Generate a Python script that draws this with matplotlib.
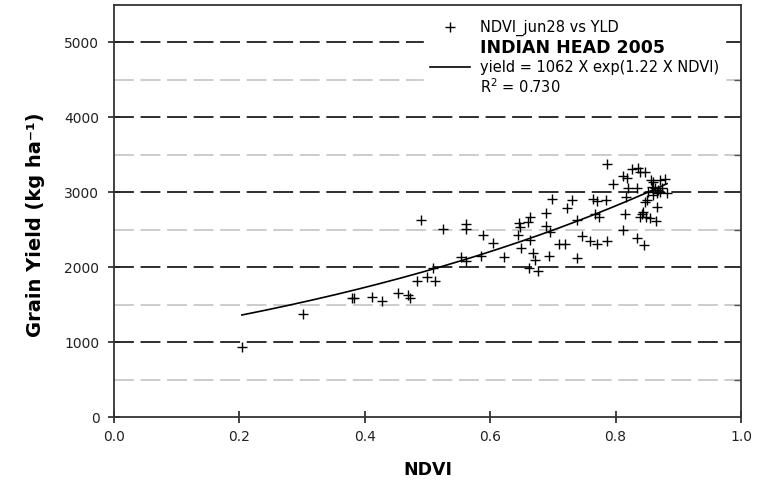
import numpy as np
import matplotlib
matplotlib.use("Agg")
import matplotlib.pyplot as plt
from matplotlib.lines import Line2D

plt.rcParams['font.family'] = ['DejaVu Sans']

# NDVI (jun 28) vs grain yield, Indian Head 2005
ndvi = [0.204, 0.302, 0.380, 0.383, 0.412, 0.428, 0.453, 0.469, 0.472, 0.483,
        0.490, 0.500, 0.509, 0.512, 0.525, 0.561, 0.561, 0.553, 0.561, 0.585,
        0.589, 0.605, 0.622, 0.644, 0.646, 0.648, 0.660, 0.663, 0.649, 0.663,
        0.668, 0.671, 0.662, 0.676, 0.694, 0.689, 0.689, 0.695, 0.699, 0.722,
        0.730, 0.710, 0.719, 0.738, 0.738, 0.746, 0.759, 0.770, 0.786, 0.764,
        0.770, 0.785, 0.767, 0.774, 0.786, 0.796, 0.812, 0.815, 0.812, 0.818,
        0.820, 0.817, 0.826, 0.836, 0.839, 0.847, 0.834, 0.834, 0.845, 0.844,
        0.842, 0.848, 0.839, 0.855, 0.864, 0.866, 0.850, 0.847, 0.856, 0.860,
        0.871, 0.879, 0.858, 0.863, 0.868, 0.871, 0.866, 0.874, 0.882, 0.852,
        0.860]
yld = [940, 1370, 1590, 1590, 1600, 1550, 1660, 1630, 1590, 1810,
       2630, 1870, 1990, 1820, 2510, 2580, 2510, 2140, 2080, 2150,
       2430, 2320, 2140, 2430, 2590, 2540, 2600, 2670, 2260, 2360,
       2190, 2100, 1990, 1950, 2150, 2720, 2550, 2470, 2910, 2790,
       2900, 2310, 2310, 2630, 2120, 2410, 2350, 2310, 2350, 2910,
       2890, 2900, 2710, 2670, 3380, 3110, 2500, 2710, 3220, 3190,
       3060, 2940, 3310, 3330, 3270, 3270, 3060, 2390, 2290, 2740,
       2710, 2670, 2670, 2660, 2620, 2800, 2900, 2870, 3170, 3140,
       3170, 3180, 3070, 3060, 3030, 3000, 2990, 3060, 2990, 3010,
       2970]

# fitted model shown in the legend
a_coef = 1062
b_coef = 1.22

fig = plt.figure(figsize=(7.61, 4.83), dpi=100)
ax = fig.add_axes([0.1498, 0.1366, 0.8239, 0.8530])

# grid lines
for v in range(500, 5500, 1000):
    ax.axhline(v, color="#c8c8c8", lw=1.3, ls=(0, (11, 3.7)), zorder=1)
for v in range(1000, 5500, 1000):
    ax.axhline(v, color="#1e1e1e", lw=1.3, ls=(0, (11, 3.7)), zorder=1)

ax.plot(ndvi, yld, ls="none", marker="+", ms=7, mew=1.0, color="black", zorder=3)
xf = np.linspace(min(ndvi), max(ndvi), 200)
ax.plot(xf, a_coef * np.exp(b_coef * xf), color="black", lw=1.2, zorder=4)

ax.set_xlim(0, 1.0)
ax.set_ylim(0, 5500)
ax.set_xticks(np.arange(0, 1.01, 0.2))
ax.set_xticklabels(["0.0", "0.2", "0.4", "0.6", "0.8", "1.0"])
ax.set_yticks(range(0, 5001, 1000))
ax.set_yticks(range(500, 5000, 1000), minor=True)
ax.tick_params(axis="both", which="major", direction="inout", length=9, width=1.2,
               labelsize=10, colors="#222222")
ax.tick_params(axis="x", which="major", pad=5)
ax.tick_params(axis="y", which="major", pad=6)
ax.tick_params(axis="y", which="minor", left=False, right=True, direction="in",
               length=5, width=1.0, color="#555555")
for s in ax.spines.values():
    s.set_linewidth(1.3)
    s.set_color("#333333")

ax.set_xlabel("NDVI", fontsize=12.5, fontweight="bold", labelpad=12)
ax.set_ylabel("Grain Yield (kg ha\u207b\u00b9)", fontsize=14, fontweight="bold")
ax.yaxis.set_label_coords(-0.110, 0.467)

handles = [
    Line2D([], [], ls="none", marker="+", ms=7, mew=1.0, color="black"),
    Line2D([], [], ls="none"),
    Line2D([], [], color="black", lw=1.2),
    Line2D([], [], ls="none"),
]
labels = ["NDVI_jun28 vs YLD", "INDIAN HEAD 2005",
          "yield = 1062 X exp(1.22 X NDVI)", "R$^2$ = 0.730"]
leg = ax.legend(handles, labels, loc="upper right", bbox_to_anchor=(0.986, 0.996),
                frameon=True, fancybox=False, fontsize=10.5, handlelength=2.75,
                handletextpad=0.7, labelspacing=0.2, borderpad=0.4)
leg.get_frame().set_edgecolor("white")
leg.get_frame().set_facecolor("white")
leg.get_frame().set_alpha(1)
leg.set_zorder(5)
leg.get_texts()[1].set_fontweight("bold")
leg.get_texts()[1].set_fontsize(12.5)

fig.savefig("out.png", dpi=100)
